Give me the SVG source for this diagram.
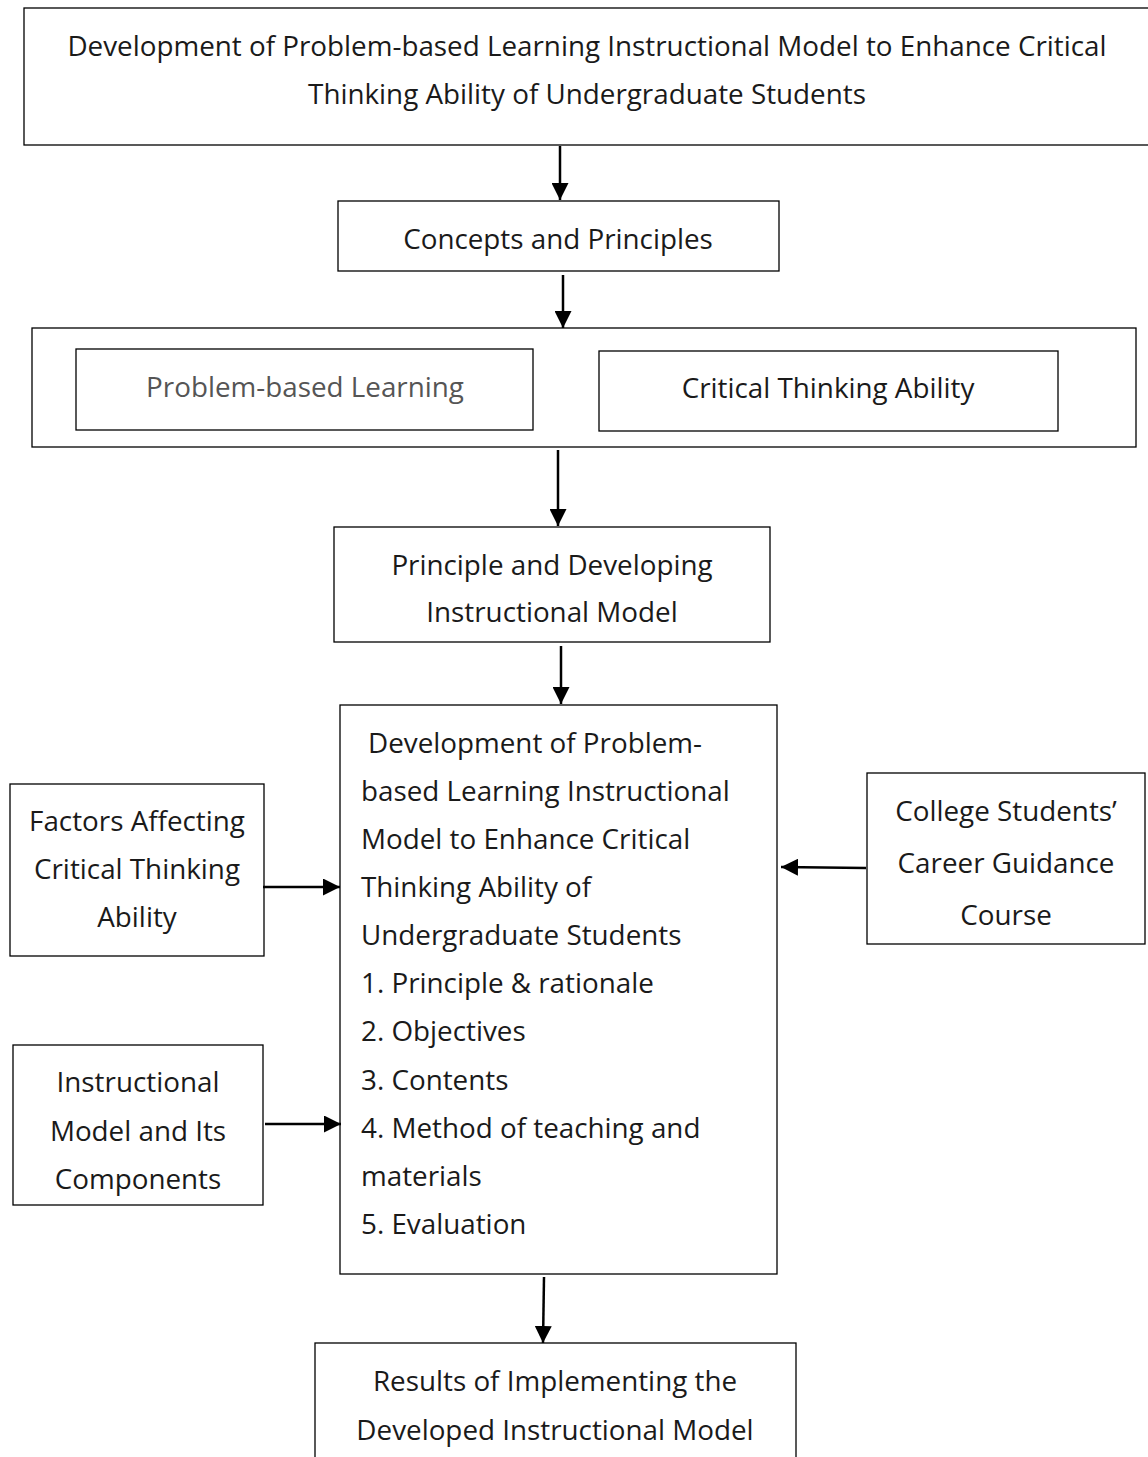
<svg xmlns="http://www.w3.org/2000/svg" width="1148" height="1457" viewBox="0 0 1148 1457">
<style>
.box{fill:#fff;stroke:#000;stroke-width:1.3}
text{font-family:"Open Sans","Noto Sans",sans-serif;font-size:27.8px;fill:#1a1a1a}
.c{text-anchor:middle}
.gray{fill:#555}
.conn line{stroke:#000;stroke-width:2.5}
</style>
<defs>
<marker id="ah" viewBox="0 0 10 10" refX="10" refY="5" markerWidth="6.8" markerHeight="6.8" orient="auto" markerUnits="strokeWidth" preserveAspectRatio="none">
<path d="M0,0 L10,5 L0,10 z" fill="#000"/>
</marker>
</defs>
<rect width="1148" height="1457" fill="#fff"/>
<g id="title">
<rect class="box" x="24" y="8" width="1140" height="137"/>
<text class="c" x="587" y="56">Development of Problem-based Learning Instructional Model to Enhance Critical</text>
<text class="c" x="587" y="104">Thinking Ability of Undergraduate Students</text>
</g>
<g id="concepts">
<rect class="box" x="338" y="201" width="441" height="70"/>
<text class="c" x="558" y="249">Concepts and Principles</text>
</g>
<g id="group">
<rect class="box" x="32" y="328" width="1104" height="119"/>
</g>
<g id="pbl">
<rect class="box" x="76" y="349" width="457" height="81"/>
<text class="c gray" x="305" y="397">Problem-based Learning</text>
</g>
<g id="cta">
<rect class="box" x="599" y="351" width="459" height="80"/>
<text class="c" x="828" y="398">Critical Thinking Ability</text>
</g>
<g id="principle">
<rect class="box" x="334" y="527" width="436" height="115"/>
<text class="c" x="552" y="575">Principle and Developing</text>
<text class="c" x="552" y="622">Instructional Model</text>
</g>
<g id="model">
<rect class="box" x="340" y="705" width="437" height="569"/>
<text x="368" y="753">Development of Problem-</text>
<text x="361" y="801">based Learning Instructional</text>
<text x="361" y="849">Model to Enhance Critical</text>
<text x="361" y="897">Thinking Ability of</text>
<text x="361" y="945">Undergraduate Students</text>
<text x="361" y="993">1. Principle &amp; rationale</text>
<text x="361" y="1041">2. Objectives</text>
<text x="361" y="1090">3. Contents</text>
<text x="361" y="1138">4. Method of teaching and</text>
<text x="361" y="1186">materials</text>
<text x="361" y="1234">5. Evaluation</text>
</g>
<g id="factors">
<rect class="box" x="10" y="784" width="254" height="172"/>
<text class="c" x="137" y="831">Factors Affecting</text>
<text class="c" x="137" y="879">Critical Thinking</text>
<text class="c" x="137" y="927">Ability</text>
</g>
<g id="components">
<rect class="box" x="13" y="1045" width="250" height="160"/>
<text class="c" x="138" y="1092">Instructional</text>
<text class="c" x="138" y="1141">Model and Its</text>
<text class="c" x="138" y="1189">Components</text>
</g>
<g id="career">
<rect class="box" x="867" y="773" width="278" height="171"/>
<text class="c" x="1006" y="821">College Students’</text>
<text class="c" x="1006" y="873">Career Guidance</text>
<text class="c" x="1006" y="925">Course</text>
</g>
<g id="results">
<rect class="box" x="315" y="1343" width="481" height="140"/>
<text class="c" x="555" y="1391">Results of Implementing the</text>
<text class="c" x="555" y="1440">Developed Instructional Model</text>
</g>
<g class="conn" id="connectors">
<line x1="560" y1="146" x2="560" y2="200" marker-end="url(#ah)"/>
<line x1="563" y1="275" x2="563" y2="328" marker-end="url(#ah)"/>
<line x1="558" y1="450" x2="558" y2="526" marker-end="url(#ah)"/>
<line x1="561" y1="646" x2="561" y2="704" marker-end="url(#ah)"/>
<line x1="263" y1="887" x2="340" y2="887" marker-end="url(#ah)"/>
<line x1="265" y1="1124" x2="341" y2="1124" marker-end="url(#ah)"/>
<line x1="866" y1="868" x2="781" y2="867" marker-end="url(#ah)"/>
<line x1="544" y1="1277" x2="543" y2="1343" marker-end="url(#ah)"/>
</g>
</svg>
